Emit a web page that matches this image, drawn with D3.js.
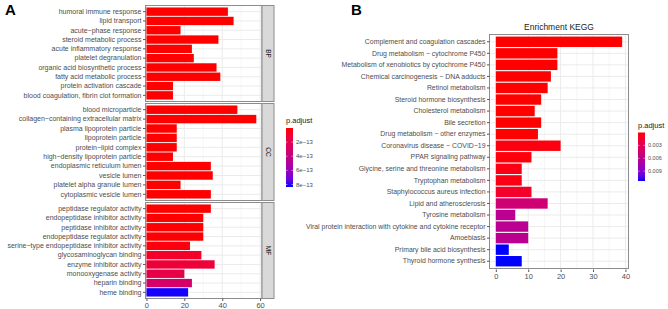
<!DOCTYPE html>
<html>
<head>
<meta charset="utf-8">
<script src="https://cdn.jsdelivr.net/npm/d3@7"></script>
<style>
  body { margin: 0; background: #fff; }
  svg text { font-family: "Liberation Sans", Arial, sans-serif; }
</style>
</head>
<body>
<div id="chart"></div>
<script>
// ---- data: GO enrichment (panel A) ----
const bpTerms = ["humoral immune response", "lipid transport", "acute−phase response", "steroid metabolic process",
  "acute inflammatory response", "platelet degranulation", "organic acid biosynthetic process",
  "fatty acid metabolic process", "protein activation cascade", "blood coagulation, fibrin clot formation"];
const bpCounts = [43, 46, 18, 38, 24, 25, 37, 39, 14, 14];
const bpPadj = [1e-20, 1e-20, 1e-20, 1e-20, 1e-20, 1e-20, 1e-20, 1e-20, 1e-20, 1e-20];

const ccTerms = ["blood microparticle", "collagen−containing extracellular matrix", "plasma lipoprotein particle",
  "lipoprotein particle", "protein−lipid complex", "high−density lipoprotein particle", "endoplasmic reticulum lumen",
  "vesicle lumen", "platelet alpha granule lumen", "cytoplasmic vesicle lumen"];
const ccCounts = [48, 58, 16, 16, 16, 14, 34, 35, 18, 34];
const ccPadj = [1e-20, 1e-20, 1e-20, 1e-20, 1e-20, 1e-20, 1e-20, 1e-20, 1e-20, 1e-20];

const mfTerms = ["peptidase regulator activity", "endopeptidase inhibitor activity", "peptidase inhibitor activity",
  "endopeptidase regulator activity", "serine−type endopeptidase inhibitor activity", "glycosaminoglycan binding",
  "enzyme inhibitor activity", "monooxygenase activity", "heparin binding", "heme binding"];
const mfCounts = [34, 30, 30, 30, 23, 29, 36, 20, 24, 22];
const mfPadj = [1e-15, 2e-15, 3e-15, 5e-15, 2e-14, 8e-14, 1.3e-13, 1.8e-13, 3e-13, 8.3e-13];

const goTicks = [0, 20, 40, 60];
const goLegendTicks = [2e-13, 4e-13, 6e-13, 8e-13];

// ---- data: KEGG enrichment (panel B) ----
const keggTerms = ["Complement and coagulation cascades", "Drug metabolism − cytochrome P450",
  "Metabolism of xenobiotics by cytochrome P450", "Chemical carcinogenesis − DNA adducts", "Retinol metabolism",
  "Steroid hormone biosynthesis", "Cholesterol metabolism", "Bile secretion", "Drug metabolism − other enzymes",
  "Coronavirus disease − COVID−19", "PPAR signaling pathway", "Glycine, serine and threonine metabolism",
  "Tryptophan metabolism", "Staphylococcus aureus infection", "Lipid and atherosclerosis", "Tyrosine metabolism",
  "Viral protein interaction with cytokine and cytokine receptor", "Amoebiasis", "Primary bile acid biosynthesis",
  "Thyroid hormone synthesis"];
const keggCounts = [39, 19, 19, 17, 16, 14, 12, 14, 13, 20, 11, 8, 8, 11, 16, 6, 10, 10, 4, 8];
const keggPadj = [1e-6, 1e-6, 1e-6, 1e-6, 1e-6, 1e-6, 1e-6, 1e-6, 1e-6, 3e-4, 2e-4, 4e-4, 4e-4, 1.1e-3,
  4.6e-3, 6.1e-3, 6.1e-3, 6.1e-3, 1.13e-2, 1.13e-2];
const keggTicks = [0, 10, 20, 30, 40];
const keggLegendTicks = [0.003, 0.006, 0.009];

const width = 668, height = 309;
const svg = d3.select("#chart").append("svg")
  .attr("width", width)
  .attr("height", height);

const labelColor = "#4d4d4d";
const gridColor = "#ebebeb";
const borderColor = "#8c8c8c";

function colorScale(domain) {
  return d3.scaleLinear().domain(domain).range(["#ff0000", "#0000ff"]).interpolate(d3.interpolateLab);
}

// draws one horizontal bar panel with the shared x scale
function drawPanel(terms, counts, padj, x, ticks, top, bottom, color, fontSize) {
  const y = d3.scaleBand()
    .domain(terms)
    .range([top, bottom])
    .paddingInner(0.1)
    .paddingOuter(0.05);
  const [x0, x1] = x.range();
  const g = svg.append("g");

  // grid: minor lines halfway between major ticks
  const step = ticks[1] - ticks[0];
  const minor = ticks.map(t => t + step / 2).filter(t => t < x.domain()[1]);
  g.selectAll(".gmin").data(minor).enter().append("line")
    .attr("x1", d => x(d)).attr("x2", d => x(d))
    .attr("y1", top - 1).attr("y2", bottom + 1)
    .attr("stroke", gridColor).attr("stroke-width", 0.5);
  g.selectAll(".gmaj").data(ticks).enter().append("line")
    .attr("x1", d => x(d)).attr("x2", d => x(d))
    .attr("y1", top - 1).attr("y2", bottom + 1)
    .attr("stroke", gridColor).attr("stroke-width", 1);
  g.selectAll(".grow").data(terms).enter().append("line")
    .attr("x1", x0).attr("x2", x1)
    .attr("y1", d => y(d) + y.bandwidth() / 2).attr("y2", d => y(d) + y.bandwidth() / 2)
    .attr("stroke", gridColor).attr("stroke-width", 1);

  // bars
  g.selectAll("rect.bar").data(terms).enter().append("rect")
    .attr("class", "bar")
    .attr("x", x(0))
    .attr("y", d => y(d))
    .attr("height", y.bandwidth())
    .attr("width", (d, i) => x(counts[i]) - x(0))
    .attr("fill", (d, i) => color(padj[i]));

  // border
  g.append("rect")
    .attr("x", x0).attr("y", top - 1.5)
    .attr("width", x1 - x0).attr("height", bottom - top + 3)
    .attr("fill", "none").attr("stroke", borderColor).attr("stroke-width", 1);

  // y axis
  const ax = g.append("g")
    .attr("transform", `translate(${x0},0)`)
    .call(d3.axisLeft(y).tickSize(2.5).tickPadding(1.5));
  ax.select(".domain").remove();
  ax.selectAll("line").attr("stroke", "#555");
  ax.selectAll("text").attr("fill", labelColor).style("font-size", fontSize + "px");
  return g;
}

function drawXAxis(x, ticks, yPos, fontSize) {
  const ax = svg.append("g")
    .attr("transform", `translate(0,${yPos})`)
    .call(d3.axisBottom(x).tickValues(ticks).tickSize(2.5).tickPadding(1.5));
  ax.select(".domain").remove();
  ax.selectAll("line").attr("stroke", "#555");
  ax.selectAll("text").attr("fill", labelColor).style("font-size", fontSize + "px");
}

function drawLegend(color, ticks, x0, top, bottom, idName, labelSize, fmt) {
  const dom = color.domain();
  const grad = svg.append("defs").append("linearGradient")
    .attr("id", idName).attr("x1", 0).attr("x2", 0).attr("y1", 0).attr("y2", 1);
  d3.range(0, 1.0001, 0.1).forEach(t => {
    grad.append("stop").attr("offset", t).attr("stop-color", color(dom[0] + t * (dom[1] - dom[0])));
  });
  const ly = d3.scaleLinear().domain(dom).range([top, bottom]);
  svg.append("text").attr("x", x0).attr("y", top - 5)
    .style("font-size", "7.5px").attr("fill", "#222").text("p.adjust");
  svg.append("rect").attr("x", x0).attr("y", top).attr("width", 7).attr("height", bottom - top)
    .attr("fill", `url(#${idName})`);
  ticks.forEach(t => {
    svg.append("line").attr("x1", x0).attr("x2", x0 + 1.5).attr("y1", ly(t)).attr("y2", ly(t))
      .attr("stroke", "#fff").attr("stroke-width", 0.5);
    svg.append("line").attr("x1", x0 + 5.5).attr("x2", x0 + 7).attr("y1", ly(t)).attr("y2", ly(t))
      .attr("stroke", "#fff").attr("stroke-width", 0.5);
  });
  svg.selectAll(null).data(ticks).enter().append("text")
    .attr("x", x0 + 10).attr("y", d => ly(d)).attr("dy", "0.35em")
    .style("font-size", labelSize + "px").attr("fill", labelColor)
    .text(fmt);
}

// ---- panel A ----
const xA = d3.scaleLinear().domain([-0.5, 61]).range([145.5, 262]);
const colorA = colorScale([0, 8.35e-13]);
const panelsA = [
  { name: "BP", terms: bpTerms, counts: bpCounts, padj: bpPadj, top: 7, bottom: 100 },
  { name: "CC", terms: ccTerms, counts: ccCounts, padj: ccPadj, top: 105, bottom: 199 },
  { name: "MF", terms: mfTerms, counts: mfCounts, padj: mfPadj, top: 204, bottom: 297 }
];
panelsA.forEach(p => {
  drawPanel(p.terms, p.counts, p.padj, xA, goTicks, p.top, p.bottom, colorA, 7);
  // strip
  svg.append("rect").attr("x", 262).attr("y", p.top - 1.5).attr("width", 12).attr("height", p.bottom - p.top + 3)
    .attr("fill", "#d9d9d9").attr("stroke", borderColor).attr("stroke-width", 1);
  svg.append("text")
    .attr("transform", `translate(268,${(p.top + p.bottom) / 2}) rotate(90)`)
    .attr("text-anchor", "middle").attr("dy", "0.35em")
    .style("font-size", "6.5px").attr("fill", "#1a1a1a").text(p.name);
});
drawXAxis(xA, goTicks, 298.5, 7.5);
drawLegend(colorA, goLegendTicks, 286, 128, 187, "gradA", 6, d => d3.format(".0e")(d).replace("-", "−"));

// ---- panel B ----
const xB = d3.scaleLinear().domain([-1.95, 40.95]).range([489.5, 628.5]);
const colorB = colorScale([0, 0.0113]);
drawPanel(keggTerms, keggCounts, keggPadj, xB, keggTicks, 36, 267, colorB, 6.9);
drawXAxis(xB, keggTicks, 269.5, 7.5);
drawLegend(colorB, keggLegendTicks, 638, 132.5, 181, "gradB", 5.5, d => d3.format(".3f")(d));

svg.append("text").attr("x", (489.5 + 628.5) / 2).attr("y", 30)
  .attr("text-anchor", "middle").style("font-size", "8.5px").attr("fill", "#222")
  .text("Enrichment KEGG");

// panel letters
svg.append("text").attr("x", 5).attr("y", 15).style("font-size", "15px").style("font-weight", "bold").text("A");
svg.append("text").attr("x", 351).attr("y", 15).style("font-size", "15px").style("font-weight", "bold").text("B");
</script>
</body>
</html>
